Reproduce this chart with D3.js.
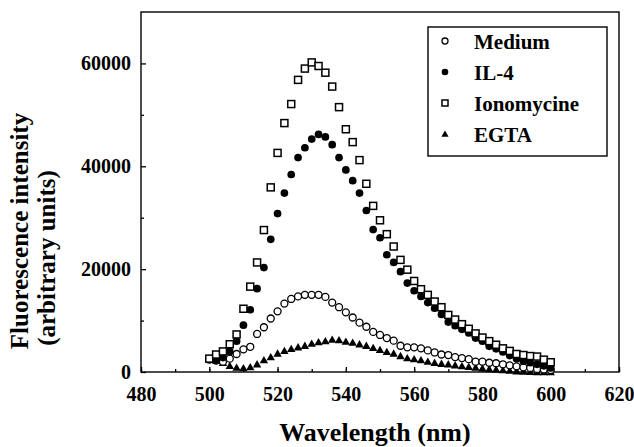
<!DOCTYPE html>
<html>
<head>
<meta charset="utf-8">
<script src="https://d3js.org/d3.v7.min.js"></script>
<style>
    body { margin: 0; background: #fff; }
    .axis path, .axis line { stroke: #000; stroke-width: 1.3px; }
</style>
</head>
<body>
<div id="chart"></div>
<script>
// wavelengths (nm), one reading every 2 nm
const wavelengths = [500, 502, 504, 506, 508, 510, 512, 514, 516, 518, 520, 522, 524, 526, 528, 530, 532, 534, 536, 538,
    540, 542, 544, 546, 548, 550, 552, 554, 556, 558, 560, 562, 564, 566, 568, 570, 572, 574, 576, 578,
    580, 582, 584, 586, 588, 590, 592, 594, 596, 598, 600];

const medium = [2400, 2200, 2000, 2600, 3500, 4400, 4900, 7400, 8700, 10400, 11800, 13300, 14200, 14700, 15000, 15000, 15000, 14600, 13500, 12600,
    11600, 10600, 9600, 8800, 7800, 7200, 6600, 6100, 5100, 4800, 4800, 4600, 4200, 3800, 3400, 3300, 2900, 2700, 2500, 2000,
    2000, 1800, 1700, 1500, 1300, 1100, 900, 800, 600, 500, 400];

const il4 = [2500, 2300, 2800, 4000, 6000, 9100, 12100, 16200, 20300, 25800, 30800, 34800, 38400, 41700, 43600, 45300, 46200, 45700, 44200, 41700,
    39300, 37200, 34800, 31400, 27700, 26100, 22800, 21300, 19500, 17300, 15800, 14700, 13500, 12400, 11200, 9700, 9000, 8300, 7600, 6600,
    6000, 5000, 4500, 3900, 3200, 2600, 2100, 1800, 1500, 1200, 800];

const ionomycine = [2600, 3400, 4000, 5400, 7300, 12300, 16600, 21300, 27600, 35900, 42600, 48400, 52100, 56800, 59000, 60200, 59500, 58200, 55500, 51500,
    47200, 44700, 41200, 36600, 32300, 29500, 26800, 24400, 21800, 19900, 17700, 16100, 15000, 13700, 12600, 11100, 10200, 9300, 8400, 7500,
    6700, 6000, 5300, 4600, 4100, 3500, 3300, 3100, 3000, 2400, 1900];

const egta = [2500, 2200, 1800, 1200, 850, 750, 950, 1500, 2300, 2900, 3600, 4100, 4500, 4800, 5100, 5500, 5800, 6000, 6300, 6200,
    5900, 5700, 5400, 5100, 4700, 4300, 3900, 3600, 3100, 2700, 2500, 2300, 2000, 1800, 1600, 1500, 1300, 1150, 1000, 850,
    700, 550, 450, 350, 250, 150, 100, 50, 0, 0, 0];

const seriesNames = ["Medium", "IL-4", "Ionomycine", "EGTA"];
const xTicks = [480, 500, 520, 540, 560, 580, 600, 620];
const yTicks = [0, 20000, 40000, 60000];

class SpectrumPlot {

    constructor(_config) {
        this.config = {
            parentElement: _config.parentElement,
            containerWidth: _config.containerWidth || 634,
            containerHeight: _config.containerHeight || 447,
            margin: _config.margin || {top: 12, right: 15, bottom: 75, left: 141}
        };
        this.series = [
            {name: "EGTA", values: egta, shape: "triangle"},
            {name: "Medium", values: medium, shape: "openCircle"},
            {name: "IL-4", values: il4, shape: "filledCircle"},
            {name: "Ionomycine", values: ionomycine, shape: "openSquare"}
        ];
        this.initVis();
        this.renderVis();
    }

    initVis() {
        let vis = this;
        vis.width = vis.config.containerWidth - vis.config.margin.left - vis.config.margin.right;
        vis.height = vis.config.containerHeight - vis.config.margin.top - vis.config.margin.bottom;

        vis.svg = d3.select(vis.config.parentElement).append('svg')
            .attr('width', vis.config.containerWidth)
            .attr('height', vis.config.containerHeight);

        vis.chart = vis.svg.append('g')
            .attr('transform', `translate(${vis.config.margin.left},${vis.config.margin.top})`);

        vis.xScale = d3.scaleLinear().domain([480, 620]).range([0, vis.width]);
        vis.yScale = d3.scaleLinear().domain([0, 70000]).range([vis.height, 0]);

        // minor ticks first, no labels
        vis.chart.append('g')
            .attr('class', 'axis')
            .attr('transform', `translate(0,${vis.height})`)
            .call(d3.axisBottom(vis.xScale).ticks(14).tickSize(-3).tickFormat(''))
            .select('.domain').remove();
        vis.chart.append('g')
            .attr('class', 'axis')
            .call(d3.axisLeft(vis.yScale).tickValues([10000, 30000, 50000]).tickSize(-3).tickFormat(''))
            .select('.domain').remove();

        vis.xAxisG = vis.chart.append('g')
            .attr('class', 'axis x-axis')
            .attr('transform', `translate(0,${vis.height})`)
            .call(d3.axisBottom(vis.xScale).tickValues(xTicks).tickSize(-5).tickPadding(15).tickFormat(d3.format('d')));
        vis.xAxisG.select('.domain').remove();

        vis.yAxisG = vis.chart.append('g')
            .attr('class', 'axis y-axis')
            .call(d3.axisLeft(vis.yScale).tickValues(yTicks).tickSize(-5).tickPadding(10).tickFormat(d3.format('d')));
        vis.yAxisG.select('.domain').remove();

        vis.chart.selectAll('.axis text').style('font-size', '20px');

        // plot frame
        vis.chart.append('rect')
            .attr('width', vis.width)
            .attr('height', vis.height)
            .attr('fill', 'none')
            .attr('stroke', '#000')
            .attr('stroke-width', 1.4);

        vis.svg.append('text')
            .attr('x', 375)
            .attr('y', 441)
            .attr('text-anchor', 'middle')
            .style('font-size', '26px')
            .text('Wavelength (nm)');

        vis.svg.append('text')
            .attr('transform', 'translate(28,231) rotate(-90)')
            .attr('text-anchor', 'middle')
            .style('font-size', '25px')
            .text('Fluorescence intensity');

        vis.svg.append('text')
            .attr('transform', 'translate(55,258) rotate(-90)')
            .attr('text-anchor', 'middle')
            .style('font-size', '25px')
            .text('(arbitrary units)');
    }

    drawSymbol(sel, shape, s) {
        if (shape === 'openCircle') {
            sel.append('circle').attr('r', s * 0.5).attr('fill', '#fff').attr('stroke', '#000').attr('stroke-width', 1.3);
        } else if (shape === 'filledCircle') {
            sel.append('circle').attr('r', s * 0.55).attr('fill', '#000');
        } else if (shape === 'openSquare') {
            sel.append('rect').attr('x', -s / 2).attr('y', -s / 2).attr('width', s).attr('height', s)
                .attr('fill', '#fff').attr('stroke', '#000').attr('stroke-width', 1.5);
        } else {
            sel.append('path').attr('d', `M0,${-s * 0.6}L${s * 0.6},${s * 0.45}L${-s * 0.6},${s * 0.45}Z`).attr('fill', '#000');
        }
    }

    renderVis() {
        let vis = this;

        vis.series.forEach(function(serie) {
            let pts = vis.chart.append('g')
                .selectAll('.point')
                .data(wavelengths.map((w, i) => ({w: w, v: serie.values[i]})))
                .enter().append('g')
                .attr('class', 'point')
                .attr('transform', d => `translate(${vis.xScale(d.w)},${vis.yScale(d.v)})`);
            vis.drawSymbol(pts, serie.shape, 7);
        });

        // legend
        let legend = vis.svg.append('g');
        legend.append('rect')
            .attr('x', 428).attr('y', 27)
            .attr('width', 179).attr('height', 129)
            .attr('fill', '#fff')
            .attr('stroke', '#000')
            .attr('stroke-width', 1.4);

        const shapeOf = {"Medium": "openCircle", "IL-4": "filledCircle", "Ionomycine": "openSquare", "EGTA": "triangle"};
        seriesNames.forEach(function(name, i) {
            let row = legend.append('g').attr('transform', `translate(0,${42 + i * 31})`);
            let sym = row.append('g').attr('transform', 'translate(445,-1)');
            vis.drawSymbol(sym, shapeOf[name], 6);
            row.append('text')
                .attr('x', 474)
                .attr('dy', '0.35em')
                .style('font-size', '21px')
                .text(name);
        });

        // serif bold everywhere, like the printed figure
        vis.svg.selectAll('text')
            .style('font-family', "'Liberation Serif'")
            .style('font-weight', 'bold')
            .style('fill', '#000');
    }
}

new SpectrumPlot({parentElement: '#chart'});
</script>
</body>
</html>
